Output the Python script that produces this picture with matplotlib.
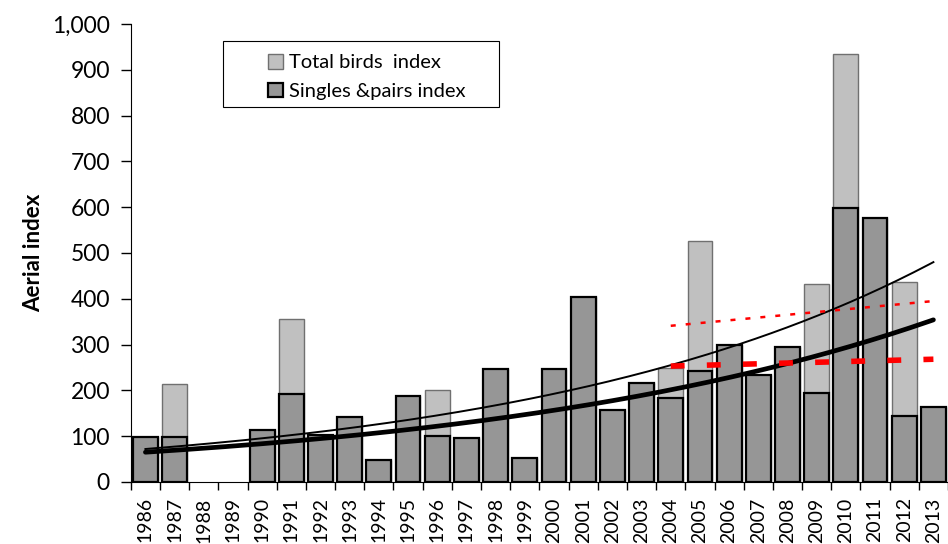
# Aerial index bar chart with exponential trend lines
import matplotlib.pyplot as plt
import numpy as np
from matplotlib.ticker import FuncFormatter
from matplotlib.patches import Rectangle

years = list(range(1986, 2014))
# singles & pairs index (None = no survey)
singles = [98, 98, None, None, 113, 191, 103, 142, 49, 187, 100, 97, 246, 52,
           247, 403, 157, 217, 183, 243, 298, 233, 294, 194, 598, 576, 144, 163]
total = [98, 213, None, None, 113, 355, 103, 142, 49, 187, 200, 97, 246, 52,
         247, 403, 157, 217, 248, 526, 298, 233, 294, 433, 934, 576, 436, 163]
# exponential trend lines, value at 1986 and 2013
trend_singles = [65, 354]
trend_total = [72, 480]
# red trend segments 2004-2013 (start, end values)
red_years = [2004, 2013]
red_total = [341, 395]
red_singles = [253, 268]

plt.rcParams['font.family'] = ['Lato', 'DejaVu Sans']

fig = plt.figure(figsize=(9.48, 5.44), dpi=100)
ax = fig.add_axes([0.138, 0.114, 0.862, 0.842])

x = np.arange(len(years))
s = np.array([np.nan if v is None else v for v in singles], dtype=float)
t = np.array([np.nan if v is None else v for v in total], dtype=float)
ok = ~np.isnan(s)

ax.bar(x[ok], t[ok], width=0.85, color='#C0C0C0', edgecolor='#707070',
       linewidth=1.0, label='Total birds  index', zorder=2)
ax.bar(x[ok], s[ok], width=0.85, color='#969696', edgecolor='black',
       linewidth=1.6, label='Singles &pairs index', zorder=3)

# exponential trend curves
xs = np.linspace(0, len(years) - 1, 200)
ax.plot(xs, np.geomspace(trend_total[0], trend_total[1], len(xs)),
        color='black', linewidth=1.4, zorder=4)
ax.plot(xs, np.geomspace(trend_singles[0], trend_singles[1], len(xs)),
        color='black', linewidth=3.4, zorder=4, solid_capstyle='round')

rx = [years.index(y) for y in red_years]
ax.plot(rx, red_total, color='red', linewidth=1.8, linestyle=(0, (2, 4)), zorder=5)
ax.plot(rx, red_singles, color='red', linewidth=4, linestyle=(0, (2.5, 4)), zorder=5)

ax.set_xlim(-0.5, len(years) - 0.5)
ax.set_ylim(0, 1000)
ax.set_yticks(range(0, 1001, 100))
ax.yaxis.set_major_formatter(FuncFormatter(lambda v, p: f'{v:,.0f}'))
ax.set_xticks(x)
ax.set_xticklabels([str(y) for y in years], rotation=90, fontsize=14)
ax.set_xticks(np.arange(-0.5, len(years)), minor=True)
ax.tick_params(axis='x', which='major', length=0, pad=11)
ax.tick_params(axis='x', which='minor', length=6, direction='out', width=1)
ax.tick_params(axis='y', labelsize=16.5, length=7, direction='out', width=1, pad=8)
ax.set_ylabel('Aerial index', fontsize=16, fontweight='bold', labelpad=6)

ax.spines['top'].set_visible(False)
ax.spines['right'].set_visible(False)

# legend without its own frame, framed by a box like the original
leg = ax.legend(loc='center left', bbox_to_anchor=(258 / 948, 1 - 77 / 544),
                bbox_transform=fig.transFigure, fontsize=14.5, borderpad=0,
                frameon=False, handlelength=0.75, handleheight=0.75,
                handletextpad=0.3, labelspacing=0.55)
fig.patches.append(Rectangle((223 / 948, 1 - 107 / 544), 276 / 948, 66 / 544,
                             transform=fig.transFigure, fill=False,
                             edgecolor='black', linewidth=0.8))

fig.savefig('out.png', dpi=100)
